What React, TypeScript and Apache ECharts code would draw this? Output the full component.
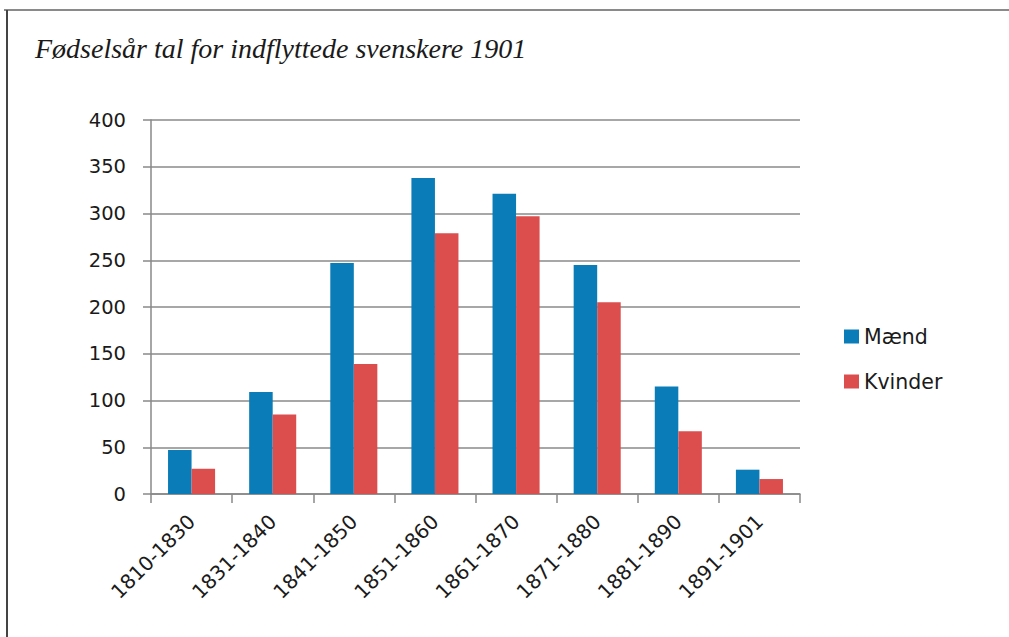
import React, { useEffect, useRef } from "react";
import * as echarts from "echarts";

const titleText = "Fødselsår tal for indflyttede svenskere 1901";
const categories = [
  "1810-1830",
  "1831-1840",
  "1841-1850",
  "1851-1860",
  "1861-1870",
  "1871-1880",
  "1881-1890",
  "1891-1901",
];
const seriesNames = ["Mænd", "Kvinder"];
const maend = [47, 109, 247, 338, 321, 245, 115, 26];
const kvinder = [27, 85, 139, 279, 297, 205, 67, 16];

const BLUE = "#0a7cb8";
const RED = "#dc4e4e";

export default function App() {
  const ref = useRef<HTMLDivElement>(null);
  useEffect(() => {
    document.body.style.margin = "0";
    const chart = echarts.init(ref.current!, undefined, { renderer: "svg" });
    const sans = "DejaVu Sans";
    chart.setOption({
      animation: false,
      backgroundColor: "#ffffff",
      title: {
        text: titleText,
        left: 30,
        top: 29,
        textStyle: {
          fontFamily: "Liberation Serif",
          fontStyle: "italic",
          fontWeight: "normal",
          fontSize: 28,
          color: "#1a1a1a",
        },
      },
      graphic: [
        {
          type: "line",
          shape: { x1: 4, y1: 10, x2: 1009, y2: 10 },
          style: { stroke: "#8a8a8a", lineWidth: 2 },
        },
        {
          type: "line",
          shape: { x1: 7, y1: 10, x2: 7, y2: 637 },
          style: { stroke: "#444444", lineWidth: 2 },
        },
      ],
      legend: {
        orient: "vertical",
        left: 839,
        top: 321,
        itemWidth: 15,
        itemHeight: 14,
        itemGap: 24,
        icon: "rect",
        textStyle: { fontFamily: sans, fontSize: 20.5, color: "#1a1a1a", lineHeight: 20 },
        data: seriesNames,
      },
      grid: { left: 151, right: 209, top: 120, bottom: 143, containLabel: false },
      xAxis: {
        type: "category",
        data: categories,
        boundaryGap: true,
        axisLine: { show: true, lineStyle: { color: "#888", width: 1.5 } },
        axisTick: { show: true, alignWithLabel: false, length: 9, lineStyle: { color: "#888", width: 1.5 } },
        axisLabel: {
          interval: 0,
          rotate: 45,
          margin: 24,
          padding: [20, 0, 0, 0],
          fontFamily: sans,
          fontSize: 20,
          color: "#1a1a1a",
        },
        splitLine: { show: false },
      },
      yAxis: {
        type: "value",
        min: 0,
        max: 400,
        interval: 50,
        axisLine: { show: true, lineStyle: { color: "#888", width: 1.5 } },
        axisTick: { show: true, length: 8, lineStyle: { color: "#888", width: 1.5 } },
        axisLabel: { margin: 25, fontFamily: sans, fontSize: 19.5, color: "#1a1a1a" },
        splitLine: { show: true, lineStyle: { color: "#8a8a8a", width: 1.5 } },
      },
      series: [
        {
          name: seriesNames[0],
          type: "bar",
          data: maend,
          itemStyle: { color: BLUE },
          barGap: "0%",
          barCategoryGap: "42%",
        },
        {
          name: seriesNames[1],
          type: "bar",
          data: kvinder,
          itemStyle: { color: RED },
          barGap: "0%",
          barCategoryGap: "42%",
        },
      ],
    });
    return () => chart.dispose();
  }, []);
  return (
    <div
      ref={ref}
      style={{ position: "absolute", left: 0, top: 0, width: 1009, height: 637 }}
    />
  );
}
